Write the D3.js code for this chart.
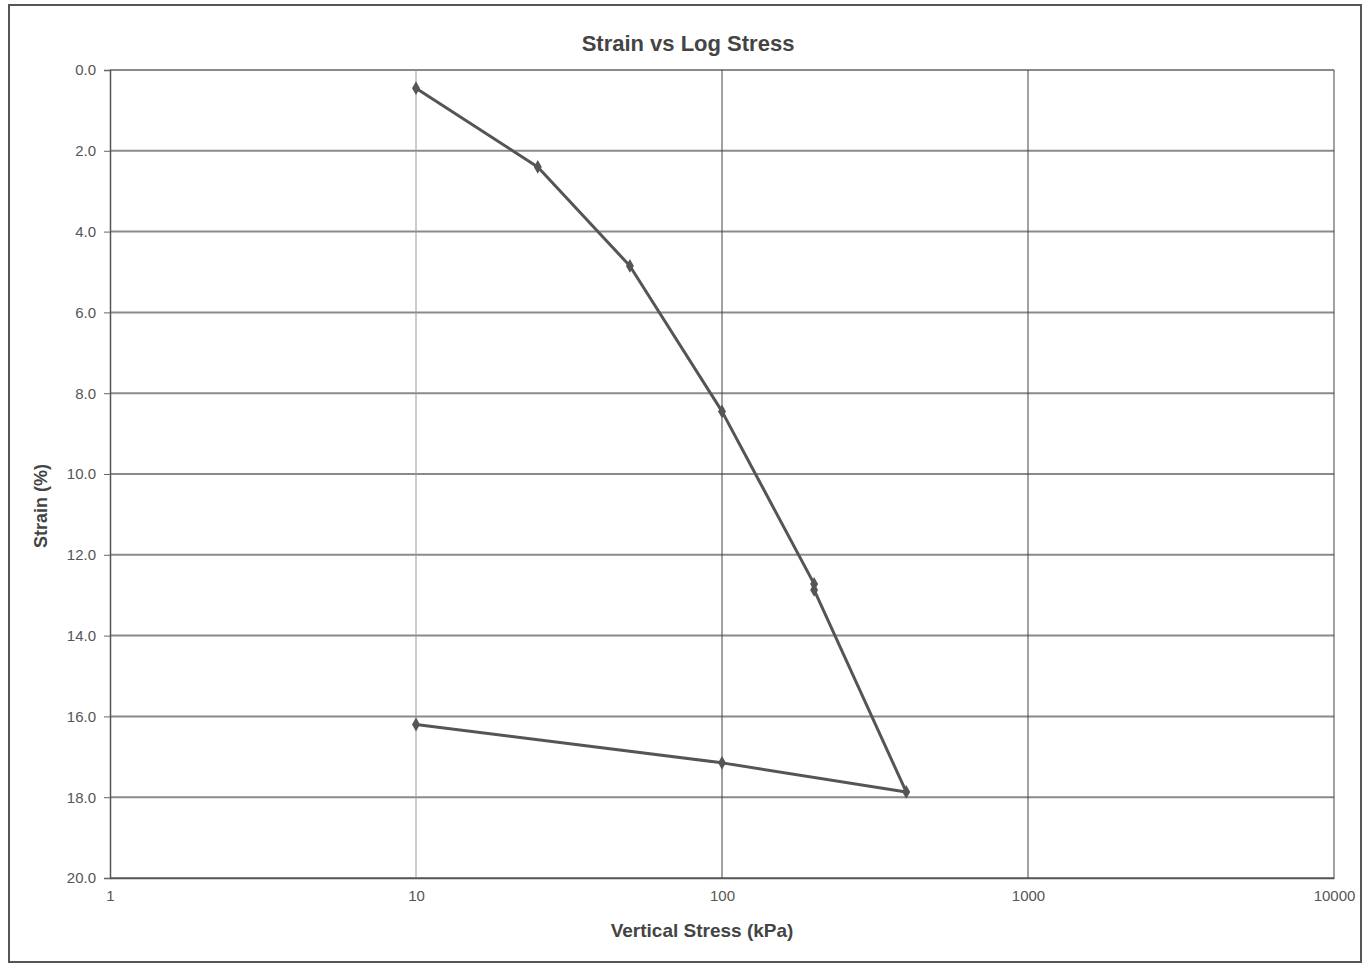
<html>
<head>
<meta charset="utf-8">
<style>
  body { margin: 0; background: #fff; }
  text { font-family: "Liberation Sans", Arial, sans-serif; }
</style>
</head>
<body>
<svg width="1367" height="965"></svg>
<script src="https://cdn.jsdelivr.net/npm/d3@7"></script>
<script type="text/javascript">
// loading path: stress (kPa) and strain (%) in test order
const stress = [10, 25, 50, 100, 200, 200, 400, 100, 10]
const strain = [0.45, 2.4, 4.85, 8.45, 12.72, 12.87, 17.87, 17.15, 16.2]
const xTicks = [1, 10, 100, 1000, 10000]
const yTicks = [0, 2, 4, 6, 8, 10, 12, 14, 16, 18, 20]

const svg = d3.select("svg")

// outer frame of the scanned page
svg.append("rect").attr("x",9).attr("y",5).attr("width",1352).attr("height",957)
  .attr("fill","none").attr("stroke","#555").attr("stroke-width",2)

const plotLeft = 110, plotTop = 70, plotRight = 1334, plotBottom = 878

const x = d3.scaleLog().domain([1, 10000]).range([plotLeft, plotRight])
const y = d3.scaleLinear().domain([0, 20]).range([plotTop, plotBottom])

//horizontal gridlines
svg.append("g").selectAll("line").data(yTicks).join("line")
  .attr("x1",plotLeft).attr("x2",plotRight).attr("y1",d => y(d)).attr("y2",d => y(d))
  .attr("stroke","#8a8a8a").attr("stroke-width",2)

//vertical gridlines
svg.append("g").selectAll("line").data(xTicks.slice(1)).join("line")
  .attr("x1",d => x(d)).attr("x2",d => x(d)).attr("y1",plotTop).attr("y2",plotBottom)
  .attr("stroke",d => d === 10 ? "#999" : "#444").attr("stroke-width",1)

//y axis
const yAxis = svg.append("g").attr("transform",`translate(${plotLeft},0)`)
  .call(d3.axisLeft(y).tickValues(yTicks).tickFormat(d3.format(".1f")).tickSize(6).tickPadding(8))
yAxis.select(".domain").attr("stroke","#555").attr("stroke-width",1.5)
yAxis.selectAll(".tick line").attr("stroke","#666")
yAxis.selectAll("text").attr("fill","#555").style("font-size","15px")

//x axis
const xAxis = svg.append("g").attr("transform",`translate(0,${plotBottom})`)
  .call(d3.axisBottom(x).tickValues(xTicks).tickFormat(d3.format("d")).tickSize(0).tickPadding(12))
xAxis.select(".domain").attr("stroke","#555").attr("stroke-width",1.5)
xAxis.selectAll("text").attr("fill","#555").style("font-size","15px")

//titles
svg.append("text").attr("x",688).attr("y",51).attr("text-anchor","middle")
  .attr("fill","#444").style("font-size","22px").style("font-weight","bold").text("Strain vs Log Stress")
svg.append("text").attr("x",702).attr("y",937).attr("text-anchor","middle")
  .attr("fill","#444").style("font-size","19px").style("font-weight","bold").text("Vertical Stress (kPa)")
svg.append("text").attr("transform","translate(47,506) rotate(-90)").attr("text-anchor","middle")
  .attr("fill","#444").style("font-size","18px").style("font-weight","bold").text("Strain (%)")

//data line
const pts = stress.map((s,i) => [s, strain[i]])
svg.append("path").datum(pts)
  .attr("d", d3.line().x(d => x(d[0])).y(d => y(d[1])))
  .attr("fill","none").attr("stroke","#555").attr("stroke-width",3).attr("stroke-linejoin","round")

svg.append("g").selectAll("path").data(pts).join("path")
  .attr("d", d3.symbol(d3.symbolDiamond, 55))
  .attr("transform", d => `translate(${x(d[0])},${y(d[1])})`)
  .attr("fill","#555")
</script>
</body>
</html>
